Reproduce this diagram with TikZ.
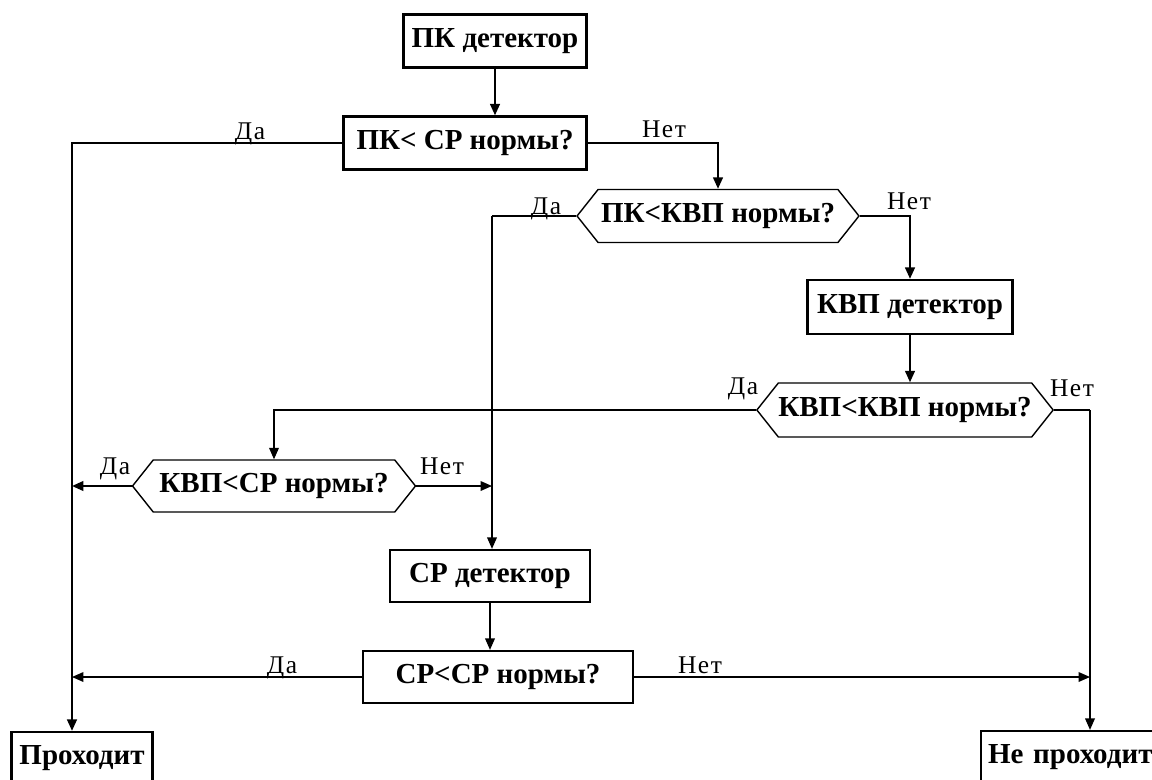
\documentclass[tikz,border=0pt]{standalone}
\usepackage{fontspec}
\setmainfont{Liberation Serif}
\newfontfamily\lblfont[LetterSpace=6]{Liberation Serif}
\usetikzlibrary{shapes.symbols,arrows.meta}

\tikzset{
  blk/.style={draw,line width=1.3pt,inner sep=0pt,font=\fontsize{16.5}{19}\selectfont\bfseries},
  hexblk/.style={draw,line width=0.8pt,inner sep=0pt,signal,signal to=east and west,
    signal pointer angle=103,font=\fontsize{16.5}{19}\selectfont\bfseries},
  arr/.style={-{Triangle[length=6.5pt,width=5.5pt]}},
  thk/.style={line width=1.2pt},
  thn/.style={line width=0.75pt},
  lbl/.style={inner sep=0pt,anchor=base,font=\lblfont\fontsize{14.5}{16}\selectfont}
}

\begin{document}
\begin{tikzpicture}[x=0.02cm,y=-0.02cm]
  \useasboundingbox (0,0) rectangle (1152,780);

  \node[blk,minimum width=3.66cm,minimum height=1.06cm] (pkdet) at (495,41) {ПК детектор};
  \node[blk,minimum width=4.86cm,minimum height=1.06cm] (pkcr) at (465,143) {ПК< СР нормы?};
  \node[hexblk,minimum width=5.64cm,minimum height=1.06cm] (pkkvp) at (718,216) {ПК<КВП нормы?};
  \node[blk,minimum width=4.1cm,minimum height=1.08cm] (kvpdet) at (910,307) {КВП детектор};
  \node[hexblk,minimum width=5.7cm,minimum height=1.08cm] (kvpkvp) at (905,410) {КВП<КВП нормы?};
  \node[hexblk,minimum width=5.66cm,minimum height=1.04cm] (kvpcr) at (274,486) {КВП<СР нормы?};
  \node[blk,minimum width=4cm,minimum height=1.04cm] (crdet) at (490,576) {СР детектор};
  \node[blk,minimum width=5.4cm,minimum height=1.04cm] (crcr) at (498,677) {СР<СР нормы?};
  \node[blk,minimum width=2.82cm,minimum height=1.04cm] (pass) at (82,758) {Проходит};
  \node[blk,anchor=west,text width=3.5cm,align=left,inner xsep=0.14cm,
    minimum height=1.04cm] (fail) at (980,757) {Не проходит};

  \coordinate (lft) at (72,143);
  \coordinate (mid) at (492,216);
  \coordinate (rgt) at (1090,410);

  % top part
  \draw[arr,thk] (pkdet.south) -- (pkdet.south |- pkcr.north);
  \draw[arr,thk] (pkcr.west) -- (lft) -- (lft |- pass.north);
  \draw[arr,thk] (pkcr.east) -| (pkkvp.north);
  \draw[thk] (pkkvp.west) -- (mid);
  \draw[arr,thn] (mid) -- (mid |- crdet.north);
  \draw[arr,thk] (pkkvp.east) -| (kvpdet.north);
  \draw[arr,thk] (kvpdet.south) -- (kvpdet.south |- kvpkvp.north);

  % middle part
  \draw[arr,thn] (kvpkvp.west) -| (kvpcr.north);
  \draw[thn] (kvpkvp.east) -- (rgt);
  \draw[arr,thn] (rgt) -- (rgt |- fail.north);
  \draw[arr,thk] (kvpcr.west) -- (kvpcr.west -| lft);
  \draw[arr,thn] (kvpcr.east) -- (kvpcr.east -| mid);

  % bottom part
  \draw[arr,thn] (crdet.south) -- (crdet.south |- crcr.north);
  \draw[arr,thn] (crcr.west) -- (crcr.west -| lft);
  \draw[arr,thn] (crcr.east) -- (crcr.east -| rgt);

  \node[lbl] (l1) at (250,140) {Да};
  \node[lbl] (l2) at (664,138) {Нет};
  \node[lbl] (l3) at (546,215) {Да};
  \node[lbl] (l4) at (909,210) {Нет};
  \node[lbl] (l5) at (743,394) {Да};
  \node[lbl] (l6) at (1072,396) {Нет};
  \node[lbl] (l7) at (115,474) {Да};
  \node[lbl] (l8) at (442,474) {Нет};
  \node[lbl] (l9) at (282,673) {Да};
  \node[lbl] (l10) at (700,673) {Нет};
\end{tikzpicture}
\end{document}
